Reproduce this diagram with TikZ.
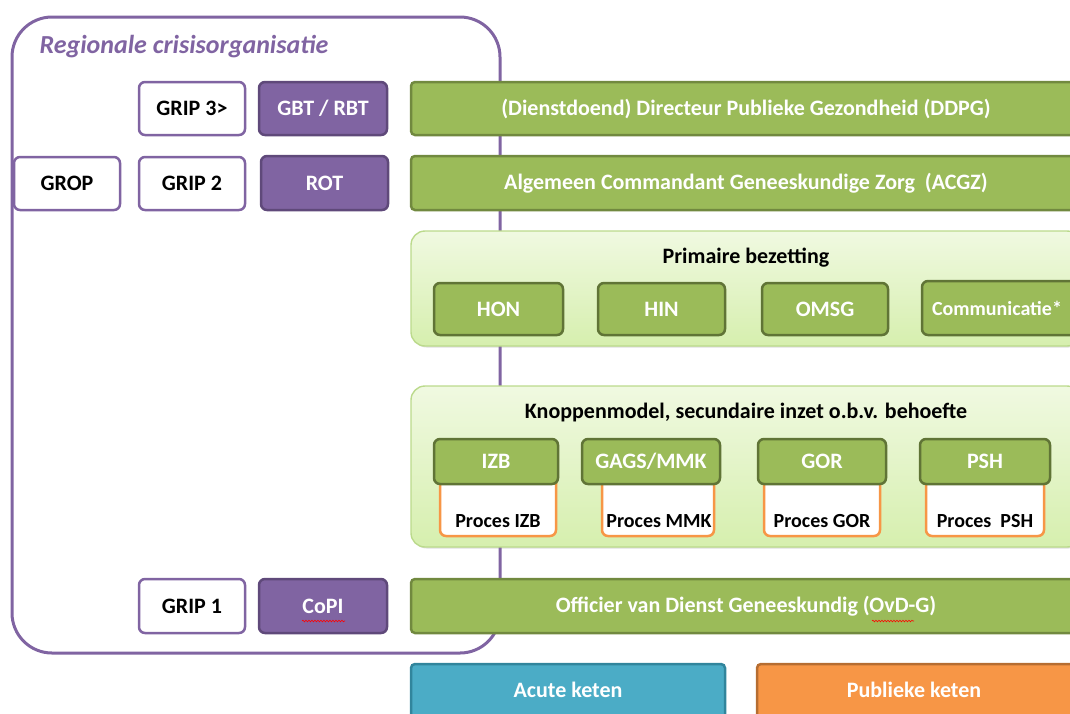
\documentclass[tikz,border=0pt]{standalone}
\usepackage{fontspec}
\setmainfont{Carlito}
\usetikzlibrary{shadows,decorations.pathmorphing}
\definecolor{purp}{HTML}{8064A2}
\definecolor{purpd}{HTML}{5F497A}
\definecolor{grn}{HTML}{9BBB59}
\definecolor{grnd}{HTML}{71893F}
\definecolor{pnlA}{HTML}{F0F9E1}
\definecolor{pnlB}{HTML}{D6EFAE}
\definecolor{pnlL}{HTML}{BBDA8C}
\definecolor{org}{HTML}{F79646}
\definecolor{orgd}{HTML}{B66D31}
\definecolor{blu}{HTML}{4BACC6}
\definecolor{blud}{HTML}{31859C}
\tikzset{
  base/.style={rounded corners=6pt, line width=2.5pt, font=\bfseries\fontsize{22}{24}\selectfont, inner sep=0pt},
  wbox/.style={base, draw=purp, fill=white, text=black},
  pbox/.style={base, draw=purpd, fill=purp, text=white},
  gbar/.style={base, rounded corners=4pt, draw=grnd, fill=grn, text=white},
  gbox/.style={base, draw=grnd!85!black, fill=grn, text=white},
  panel/.style={rounded corners=14pt, draw=pnlL, line width=1.4pt, top color=pnlA, bottom color=pnlB, drop shadow={opacity=0.25, shadow xshift=1.5pt, shadow yshift=-1.5pt}},
  procbox/.style={rounded corners=6pt, draw=org, line width=2.5pt, fill=white, inner sep=0pt},
  proctext/.style={font=\bfseries\fontsize{20}{22}\selectfont, text=black},
  bartext/.style={font=\bfseries\fontsize{22}{24}\selectfont, text=white},
  wavy/.style={draw=red, line width=0.6pt, decorate, decoration={snake, amplitude=0.8pt, segment length=3pt}},
}
\newcommand{\bx}[5]{\node[#1, minimum width=#4-#2, minimum height=#5-#3] at ({(#2+#4)/2},{(#3+#5)/2})}
\begin{document}
\begin{tikzpicture}[x=1pt,y=-1pt]
\useasboundingbox (0,0) rectangle (1070,713);
\clip (0,0) rectangle (1070,713);
% container
\node[draw=purp, line width=3pt, rounded corners=40pt, minimum width=488, minimum height=636] (reg) at (256,335) {};
\node[anchor=west, text=purp, font=\bfseries\itshape\fontsize{26}{28}\selectfont] (regt) at (36,47) {Regionale crisisorganisatie};
% rows
\bx{wbox}{139}{82}{245}{135} (grip3) {GRIP 3>};
\bx{pbox}{259}{82}{387}{135} (gbt) {GBT / RBT};
\bx{gbar}{411}{82}{1081}{135} (ddpg) {(Dienstdoend) Directeur Publieke Gezondheid (DDPG)};
\bx{wbox}{14}{157}{120}{210} (grop) {GROP};
\bx{wbox}{139}{157}{245}{210} (grip2) {GRIP 2};
\bx{pbox}{261}{156}{388}{210} (rot) {ROT};
\bx{gbar}{411}{156}{1081}{210} (acgz) {Algemeen Commandant Geneeskundige Zorg\ \ (ACGZ)};
% primaire bezetting
\bx{panel}{411}{231}{1081}{346} (prim) {};
\node[font=\bfseries\fontsize{22}{24}\selectfont] (primt) at (746,258) {Primaire bezetting};
\bx{gbox}{434}{283}{563}{335} (hon) {HON};
\bx{gbox}{598}{283}{725}{335} (hin) {HIN};
\bx{gbox}{762}{283}{888}{335} (omsg) {OMSG};
\bx{gbox, font=\bfseries\fontsize{20}{22}\selectfont}{922}{281}{1084}{335} (comm) {\hspace*{-12pt}Communicatie*};
% knoppenmodel
\bx{panel}{411}{386}{1081}{547} (knop) {};
\node[font=\bfseries\fontsize{22}{24}\selectfont] (knopt) at (746,413) {Knoppenmodel, secundaire inzet o.b.v. behoefte};
\bx{procbox}{440}{470}{556}{536} (pizb) {};
\bx{procbox}{602}{470}{714}{536} (pmmk) {};
\bx{procbox}{764}{470}{880}{536} (pgor) {};
\bx{procbox}{926}{470}{1044}{536} (ppsh) {};
\node[proctext] (tizb) at (498,521) {Proces IZB};
\node[proctext] (tmmk) at (659,521) {Proces MMK};
\node[proctext] (tgor) at (822,521) {Proces GOR};
\node[proctext] (tpsh) at (985,521) {Proces\ \ PSH};
\bx{gbox}{434}{439}{558}{484} (izb) {IZB};
\bx{gbox}{582}{439}{720}{484} (gags) {GAGS/MMK};
\bx{gbox}{758}{439}{886}{484} (gor) {GOR};
\bx{gbox}{920}{439}{1050}{484} (psh) {PSH};
% grip 1
\bx{wbox}{139}{579}{245}{633} (grip1) {GRIP 1};
\bx{pbox}{259}{579}{387}{633} (copi) {CoPI};
\bx{gbar}{411}{579}{1081}{633} (ovd) {Officier van Dienst Geneeskundig (OvD-G)};
\draw[wavy] (302,621) -- (345,621);
\draw[wavy] (872,621) -- (914,621);
% ketens
\bx{gbar, draw=blud, fill=blu}{411}{664}{725}{740} (acute) {};
\bx{gbar, draw=orgd, fill=org}{757}{664}{1081}{740} (publ) {};
\node[bartext] (tacute) at (568,690) {Acute keten};
\node[bartext] (tpubl) at (914,690) {Publieke keten};
\end{tikzpicture}
\end{document}
